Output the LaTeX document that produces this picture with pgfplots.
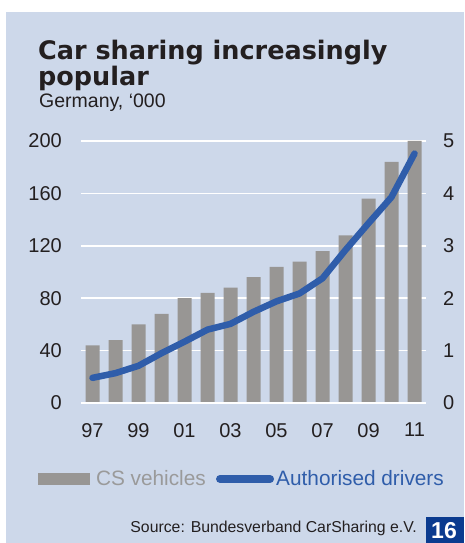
\documentclass[border=0pt]{standalone}
\usepackage{fontspec}
\setmainfont{Liberation Sans}
\newfontfamily\titlefont{DejaVu Sans}
\usepackage{pgfplots}
\pgfplotsset{compat=1.18}
\definecolor{bg}{HTML}{CDD8EA}
\definecolor{bargray}{HTML}{989694}
\definecolor{legray}{HTML}{9A9A9A}
\definecolor{lineblue}{HTML}{2F5DAA}
\definecolor{txt}{HTML}{231F20}
\definecolor{boxblue}{HTML}{0B3B8F}
\begin{document}
\begin{tikzpicture}[x=1pt,y=1pt]
\fill[white] (0,0) rectangle (464,543);
\fill[bg] (6,0) rectangle (464,531);
\node[anchor=base west, inner sep=0pt, text=txt, font=\titlefont\bfseries\fontsize{25.5}{26}\selectfont] at (38,483) {Car sharing increasingly};
\node[anchor=base west, inner sep=0pt, text=txt, font=\titlefont\bfseries\fontsize{25.5}{26}\selectfont] at (38,457) {popular};
\node[anchor=base west, inner sep=0pt, text=txt, font=\fontsize{19.5}{22}\selectfont] at (39,435) {Germany, ‘000};
\begin{axis}[at={(81pt,140pt)}, anchor=south west, scale only axis,
  width=345pt, height=262pt, clip=false,
  xmin=-0.5, xmax=14.5, ymin=0, ymax=200,
  ytick={0,40,...,200}, xtick={0,2,...,14},
  xticklabels={97,99,01,03,05,07,09,11},
  ymajorgrids, grid style={white, line width=1.5pt},
  axis line style={draw=none}, major tick length=0pt,
  /pgf/number format/assume math mode=true,
  tick label style={font=\fontsize{20}{24}\selectfont, text=txt},
  yticklabel style={anchor=east, inner sep=0pt, xshift=-19pt},
  xticklabel style={anchor=north, inner sep=0pt, yshift=-20pt},
  legend columns=2,
  legend style={at={(-0.1246,-0.290)}, anchor=west, draw=none, fill=none,
    inner sep=0pt, outer sep=0pt, column sep=0pt,
    nodes={inner sep=0pt, font=\fontsize{20.8}{24}\selectfont}},
]
\addplot[ybar, bar width=14pt, fill=bargray, draw=none,
  legend image code/.code={\fill[bargray] (0pt,-6pt) rectangle (52pt,6pt); \path (58pt,0pt);}]
  coordinates {(0,44) (1,48) (2,60) (3,68) (4,80) (5,84) (6,88) (7,96) (8,104) (9,108) (10,116) (11,128) (12,156) (13,184) (14,200)};
\addlegendentry{\textcolor{legray}{CS vehicles}}
\addlegendimage{legend image code/.code={\path (0pt,0pt); \draw[lineblue, line width=8pt, line cap=round] (14pt,0pt) -- (64pt,0pt); \path (70pt,0pt);}}
\addlegendentry{\textcolor{lineblue}{Authorised drivers}}
\addplot[white, line width=1.5pt, forget plot] coordinates {(-0.5,0) (14.5,0)};
\end{axis}
\begin{axis}[at={(81pt,140pt)}, anchor=south west, scale only axis,
  width=345pt, height=262pt, clip=false,
  xmin=-0.5, xmax=14.5, ymin=0, ymax=5,
  ytick={0,1,...,5}, xtick=\empty,
  axis line style={draw=none}, major tick length=0pt,
  yticklabel pos=right,
  /pgf/number format/assume math mode=true,
  tick label style={font=\fontsize{20}{24}\selectfont, text=txt},
  yticklabel style={anchor=west, inner sep=0pt, xshift=17pt},
]
\addplot[lineblue, line width=6.5pt, line join=round, line cap=round]
  coordinates {(0,0.48) (1,0.57) (2,0.71) (3,0.95) (4,1.17) (5,1.40) (6,1.51) (7,1.74) (8,1.94) (9,2.09) (10,2.38) (11,2.92) (12,3.43) (13,3.93) (14,4.76)};
\end{axis}
\node[anchor=base east, inner sep=0pt, text=txt, font=\fontsize{15.8}{18}\selectfont] at (417,10) {Source: Bundesverband CarSharing e.V.};
\fill[boxblue] (426,0) rectangle (464,26);
\node[anchor=base, inner sep=0pt, text=white, font=\bfseries\fontsize{23}{24}\selectfont] at (444,5) {16};
\end{tikzpicture}
\end{document}
